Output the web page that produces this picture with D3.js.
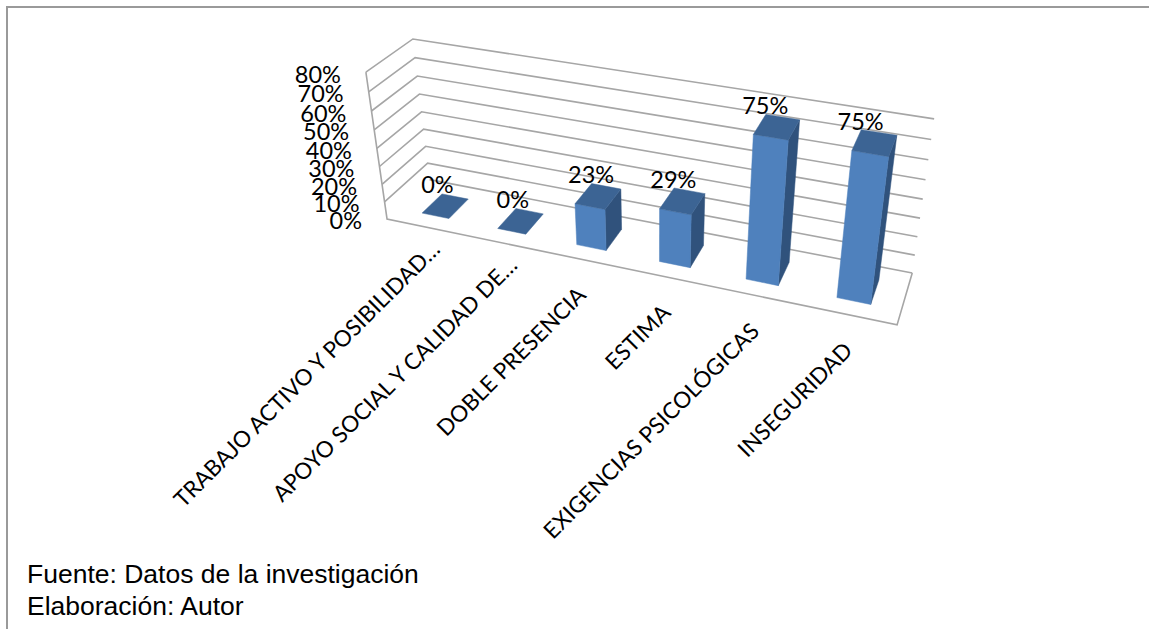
<!DOCTYPE html>
<html><head><meta charset="utf-8">
<script src="https://cdn.jsdelivr.net/npm/d3@7"></script>
<style>html,body{margin:0;padding:0;background:#fff}svg{display:block}</style>
</head><body><svg id="c" width="1149" height="629"></svg>
<script>
const categories=["TRABAJO ACTIVO Y POSIBILIDAD…","APOYO SOCIAL Y CALIDAD DE…","DOBLE PRESENCIA","ESTIMA","EXIGENCIAS PSICOLÓGICAS","INSEGURIDAD"];
const values=[0,0,23,29,75,75];
const valueLabels=["0%","0%","23%","29%","75%","75%"];
const ticks=[0,10,20,30,40,50,60,70,80];
const footer=["Fuente: Datos de la investigación","Elaboración: Autor"];
// camera calibration: [category pos, depth, value, screen x, screen y]
const anchors=[[0,0,0,387,219],[0,0,80,366,72],[0,1,80,413,39],[6,1,80,934,119],[6,1,0,912,273],[6,0,0,897,325],[0,1,10,428,163],[6,1,10,915,255],[0,1,40,421,112],[6,1,40,923,199]];
const svg=d3.select("#c");
const xN=d3.scaleLinear([0,6],[0,1]),zN=d3.scaleLinear([0,80],[0,1]);
function solve(A,b){const n=b.length,M=A.map((r,i)=>[...r,b[i]]);
 for(let c=0;c<n;c++){let p=c;for(let r=c+1;r<n;r++)if(Math.abs(M[r][c])>Math.abs(M[p][c]))p=r;[M[c],M[p]]=[M[p],M[c]];
  for(let r=0;r<n;r++){if(r===c)continue;const f=M[r][c]/M[c][c];for(let k=c;k<=n;k++)M[r][k]-=f*M[c][k];}}
 return M.map((r,i)=>r[n]/r[i]);}
const rows=[],rhs=[];
anchors.forEach(([X,Y,Z,u,v])=>{const x=xN(X),z=zN(Z),U=u/1000,V=v/1000;
 rows.push([x,Y,z,1,0,0,0,0,-U*x,-U*Y,-U*z]);rhs.push(U);
 rows.push([0,0,0,0,x,Y,z,1,-V*x,-V*Y,-V*z]);rhs.push(V);});
const AtA=d3.range(11).map(i=>d3.range(11).map(j=>d3.sum(rows,r=>r[i]*r[j])));
const Atb=d3.range(11).map(i=>d3.sum(rows,(r,k)=>r[i]*rhs[k]));
const p=solve(AtA,Atb);
function P(X,Y,Z){const x=xN(X),z=zN(Z),w=p[8]*x+p[9]*Y+p[10]*z+1;
 return [1000*(p[0]*x+p[1]*Y+p[2]*z+p[3])/w,1000*(p[4]*x+p[5]*Y+p[6]*z+p[7])/w];}
const line=d3.line();
const grid="#a6a6a6";
function seg(pts,c=grid,w=1.6){svg.append("path").attr("d",line(pts)).attr("fill","none").attr("stroke",c).attr("stroke-width",w);}
// frame
seg([[1149,7],[7,7],[7,629]],"#9a9a9a",2);
// walls
ticks.forEach(t=>{ if(t>0){seg([P(0,0,t),P(0,1,t),P(6,1,t)]);} else seg([P(0,1,0),P(6,1,0)]); });
seg([P(0,0,80),P(0,0,0),P(6,0,0),P(6,1,0)]);
// bars
const bw=0.36,dF=0.26,dB=0.74;
const FRONT="#4f81bd",TOP="#3c6494",SIDE="#30527c";
function poly(pts,c){svg.append("path").attr("d",line(pts)+"Z").attr("fill",c).attr("stroke",c).attr("stroke-width",.5);}
const labelDx=d3.scaleLinear([440,520,600,874],[-8,-8,-7,-14]).clamp(true);
values.forEach((v,i)=>{const a=i+.5-bw/2,b=i+.5+bw/2;
 if(v>0){poly([P(b,dF,0),P(b,dB,0),P(b,dB,v),P(b,dF,v)],SIDE);
  poly([P(a,dF,0),P(b,dF,0),P(b,dF,v),P(a,dF,v)],FRONT);}
 poly([P(a,dF,v),P(b,dF,v),P(b,dB,v),P(a,dB,v)],TOP);
 const c=P(i+.5,.5,v);
 svg.append("text").attr("x",c[0]+labelDx(c[0])).attr("y",c[1]-13).attr("text-anchor","middle").attr("font-family","Lato").attr("font-size",23.5).text(valueLabels[i]);
});
ticks.forEach(t=>{const q=P(0,0,t);svg.append("text").attr("x",q[0]-25).attr("y",q[1]+10.5).attr("text-anchor","end").attr("font-family","Lato").attr("font-size",23.5).text(t+"%");});
categories.forEach((c,i)=>{const q=P(i+.5,0,0);
 const dx=i<2?17:5,dy=i<2?24:37;
 svg.append("text").attr("transform",`translate(${q[0]+dx},${q[1]+dy}) rotate(-45)`).attr("text-anchor","end").attr("font-family","Lato").attr("font-size",22.5).text(c);});
footer.forEach((f,i)=>svg.append("text").attr("x",27).attr("y",583+i*32).attr("font-family","Liberation Sans").attr("font-size",26.5).text(f));
</script></body></html>
